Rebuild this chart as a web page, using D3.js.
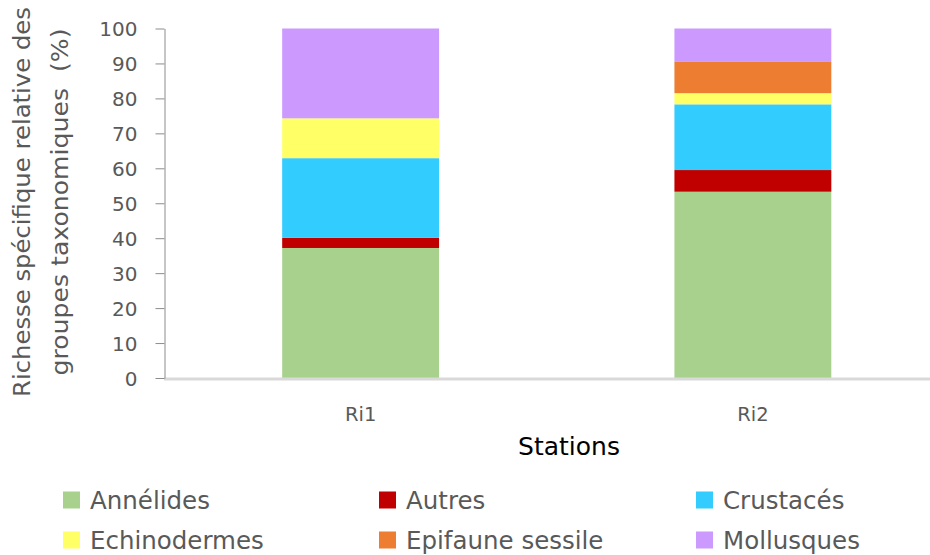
<!DOCTYPE html>
<html><head><meta charset="utf-8">
<script src="https://cdn.jsdelivr.net/npm/d3@7"></script>
<style>body{margin:0;background:#fff}svg{display:block}text{font-family:"DejaVu Sans",sans-serif}</style>
</head><body><svg id="c" width="930" height="555"></svg>
<script>
const stations = ["Ri1", "Ri2"];
const groups = ["Annélides", "Autres", "Crustacés", "Echinodermes", "Epifaune sessile", "Mollusques"];
const colors = ["#A9D18E", "#C00000", "#33CCFF", "#FFFF66", "#ED7D31", "#CC99FF"];
const annelides = [37.2, 53.3];
const autres = [2.9, 6.2];
const crustaces = [22.8, 18.8];
const echinodermes = [11.4, 3.2];
const epifaune = [0, 9.1];
const mollusques = [25.7, 9.4];
const yTicks = [0, 10, 20, 30, 40, 50, 60, 70, 80, 90, 100];

const seriesVals = [annelides, autres, crustaces, echinodermes, epifaune, mollusques];
const rows = stations.map((s, i) => {
  const r = {station: s};
  groups.forEach((g, j) => r[g] = seriesVals[j][i]);
  return r;
});
const stack = d3.stack().keys(groups)(rows);

const svg = d3.select("#c");
const FONT = "'DejaVu Sans',sans-serif";
const y = d3.scaleLinear().domain([0, 100]).range([378, 28.5]);
const x = d3.scaleBand().domain(stations).range([164.5, 949]).paddingInner(0.6).paddingOuter(0.3);
const color = d3.scaleOrdinal().domain(groups).range(colors);

// bars
svg.append("g").selectAll("g").data(stack).join("g")
  .attr("fill", d => color(d.key))
  .selectAll("rect").data(d => d).join("rect")
  .attr("x", d => x(d.data.station))
  .attr("width", x.bandwidth())
  .attr("y", d => y(d[1]))
  .attr("height", d => y(d[0]) - y(d[1]));

// x axis line
svg.append("line").attr("x1", 164).attr("x2", 930).attr("y1", 379).attr("y2", 379)
  .attr("stroke", "#d9d9d9").attr("stroke-width", 3);

// y axis
const yAxis = svg.append("g").attr("transform", "translate(164.5,0)")
  .call(d3.axisLeft(y).tickValues(yTicks).tickSize(9).tickSizeOuter(0).tickPadding(18));
yAxis.select(".domain").attr("stroke", "#8c8c8c");
yAxis.selectAll(".tick line").attr("stroke", "#8c8c8c");
yAxis.selectAll(".tick text").attr("fill", "#595959").style("font-size", "20px")
  .style("font-family", FONT).attr("dy", "0.36em");

// x tick labels
svg.append("g").selectAll("text").data(stations).join("text")
  .attr("x", d => x(d) + x.bandwidth() / 2).attr("y", 421)
  .attr("text-anchor", "middle").attr("fill", "#595959").style("font-size", "19.5px").text(d => d);

// x title
svg.append("text").attr("x", 569).attr("y", 455).attr("text-anchor", "middle")
  .attr("fill", "#000").style("font-size", "25px").text("Stations");

// y title
const yt = svg.append("text").attr("transform", "translate(0,202) rotate(-90)")
  .attr("text-anchor", "middle").attr("fill", "#595959").style("font-size", "22.5px")
  .style("white-space", "pre");
yt.append("tspan").attr("x", 0).attr("y", 30)
  .attr("textLength", 390).attr("lengthAdjust", "spacingAndGlyphs")
  .text("Richesse spécifique relative des");
yt.append("tspan").attr("x", 0).attr("y", 68)
  .attr("textLength", 347).attr("lengthAdjust", "spacingAndGlyphs")
  .text("groupes taxonomiques  (%)");

// legend
const colX = [63, 379, 696];
const rowY = [500, 540];
const leg = svg.append("g").selectAll("g").data(groups).join("g")
  .attr("transform", (d, i) => `translate(${colX[i % 3]},${rowY[Math.floor(i / 3)]})`);
leg.append("rect").attr("x", 0).attr("y", -8.5).attr("width", 17).attr("height", 17).attr("fill", d => color(d));
leg.append("text").attr("x", 27).attr("y", 0).attr("dy", "0.36em").attr("fill", "#595959")
  .style("font-size", "24.5px").text(d => d);
</script></body></html>
